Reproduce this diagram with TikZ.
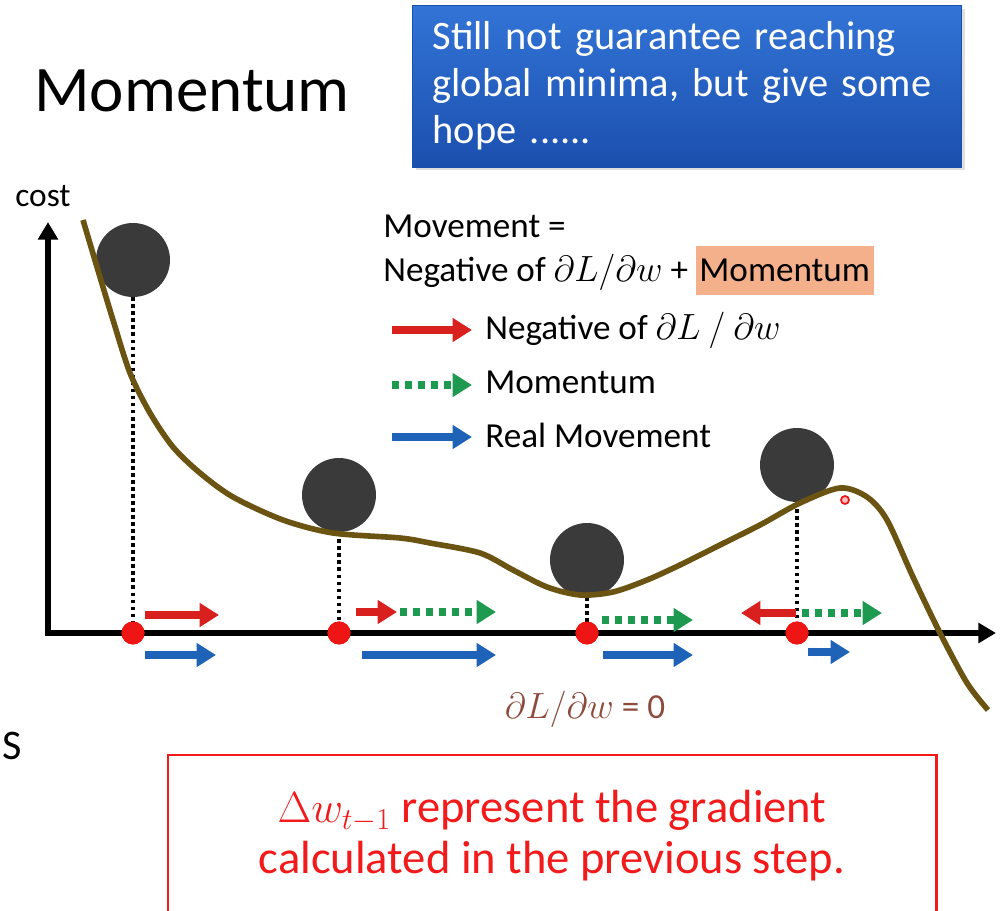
\documentclass[tikz,border=0pt]{standalone}
\usepackage{fontspec}
\setmainfont{Carlito}
\usepackage{tikz}
\usetikzlibrary{arrows.meta,positioning,calc,shadows}
\definecolor{ballGray}{HTML}{3A3A3A}
\definecolor{dotRed}{HTML}{EE1515}
\definecolor{arrRed}{HTML}{D8201E}
\definecolor{arrGreen}{HTML}{1E9A50}
\definecolor{arrBlue}{HTML}{1F63B8}
\definecolor{curveBrown}{HTML}{6B5412}
\definecolor{noteTop}{HTML}{3274D6}
\definecolor{noteBot}{HTML}{1B4FAE}
\definecolor{hlOrange}{HTML}{F4B08A}
\definecolor{zeroBrown}{HTML}{8E4A3C}
\definecolor{frameRed}{HTML}{F21A1A}

\begin{document}
\begin{tikzpicture}[x=0.02cm,y=-0.02cm,
  every node/.style={font=\fontsize{20}{24}\selectfont},
  ball/.style={circle,fill=ballGray,minimum size=1.48cm,inner sep=0pt},
  dot/.style={circle,fill=dotRed,minimum size=0.46cm,inner sep=0pt},
  guide/.style={black,line width=2.3pt,dash pattern=on 2.1pt off 1.9pt},
  axis/.style={line width=3.4pt,{Triangle[length=10pt,width=11pt]}-{Triangle[length=10pt,width=11pt]}},
  negarr/.style={arrRed,line width=4.4pt,-{Triangle[length=11pt,width=13pt]}},
  momarr/.style={arrGreen,line width=4pt,dash pattern=on 4pt off 3.4pt,-{Triangle[length=11pt,width=13pt]}},
  realarr/.style={arrBlue,line width=4.4pt,-{Triangle[length=11pt,width=13pt]}},
  costcurve/.style={curveBrown,line width=3.2pt},
  legtext/.style={inner sep=0pt}]
  \useasboundingbox (0,0) rectangle (1008,911);

  % title and note
  \node[anchor=base west,inner sep=0pt,font=\fontsize{37}{44}\selectfont] (title) at (34,112) {Momentum};
  \node[top color=noteTop,bottom color=noteBot,draw=noteBot,text=white,
        minimum width=10.98cm,minimum height=3.24cm,text width=10.18cm,inner xsep=0.4cm,
        align=left,drop shadow={opacity=0.25,shadow xshift=2pt,shadow yshift=-2pt},
        font=\fontsize{23}{26.8}\selectfont] (note) at (687,86)
    {Still not guarantee reaching\\global minima, but give some\\hope ......};

  % axes
  \coordinate (O) at (48,633);
  \coordinate (Ytop) at (48,222);
  \coordinate (Xend) at (996,633);
  \draw[axis] (Ytop) -- (O) -- (Xend);
  \node[anchor=base west,inner sep=0pt,font=\fontsize{19}{22}\selectfont] (cost) at (15,207) {cost};

  % balls, projections, points
  \foreach \i/\bx/\by in {1/133/260,2/339/495,3/587/560,4/797/465}{
    \node[ball] (B\i) at (\bx,\by) {};
    \node[dot] (D\i) at (\bx,633) {};
    \draw[guide] (B\i.south) -- (D\i.center);}
  \foreach \i in {1,...,4}
    \node[dot] at (D\i) {};

  % cost curve
  \draw[costcurve] plot[smooth] coordinates {(83,220) (97,267) (113,320) (130,373) (150,413)
    (173,447) (200,473) (233,497) (283,520) (333,533) (400,538) (430,543) (480,553) (513,570)
    (547,587) (580,595) (613,592) (647,580) (680,565) (720,545) (760,525) (800,503) (840,488)
    (867,497) (887,520) (913,577) (940,633) (967,683) (988,710)};
  \node[circle,draw=dotRed,fill=dotRed!25,line width=1pt,minimum size=0.16cm,inner sep=0pt] (cursor) at (845,500) {};

  % movements
  \draw[negarr] (145,615) -- (219,615);
  \draw[realarr] (145,655) -- (216,655);
  \draw[negarr] (356,612) -- (397,612);
  \draw[momarr] (400,612) -- (496,612);
  \draw[realarr] (362,655) -- (496,655);
  \draw[momarr] (602,620) -- (693,620);
  \draw[realarr] (603,655) -- (693,655);
  \draw[negarr] (796,613) -- (741,613);
  \draw[momarr] (802,613) -- (882,613);
  \draw[realarr] (808,652) -- (850,652);
  \node[text=zeroBrown] (zero) at (585,709) {$\partial L/\partial w$ = 0};

  % legend
  \node[legtext,anchor=base west] (Lmove) at (383,238) {Movement =};
  \node[legtext,anchor=base west] (Lsum) at (383,282) {Negative of $\partial L/\partial w$ +};
  \node[anchor=base west,fill=hlOrange,inner xsep=2pt,minimum height=28pt,xshift=4pt] (Lhl) at (Lsum.base east) {Momentum};
  \draw[negarr] (392,330) -- (472,330);
  \node[legtext,anchor=west] (Lneg) at (485,330) {Negative of $\partial L\ /\ \partial w$};
  \draw[momarr] (392,385) -- (472,385);
  \node[legtext,anchor=west] (Lmom) at (485,382) {Momentum};
  \draw[realarr] (392,437) -- (472,437);
  \node[legtext,anchor=west] (Lreal) at (485,435) {Real Movement};

  % bottom
  \node[anchor=base west,inner sep=0pt,font=\fontsize{24}{28}\selectfont] (S) at (2,760) {S};
  \draw[frameRed,line width=1.7pt] (168,915) |- (936,755) -- (936,915);
  \node[text=frameRed,align=center,font=\fontsize{26.5}{29}\selectfont] (remark) at (552,836)
    {$\Delta w_{t-1}$ represent the gradient\\calculated in the previous step.};
\end{tikzpicture}
\end{document}
